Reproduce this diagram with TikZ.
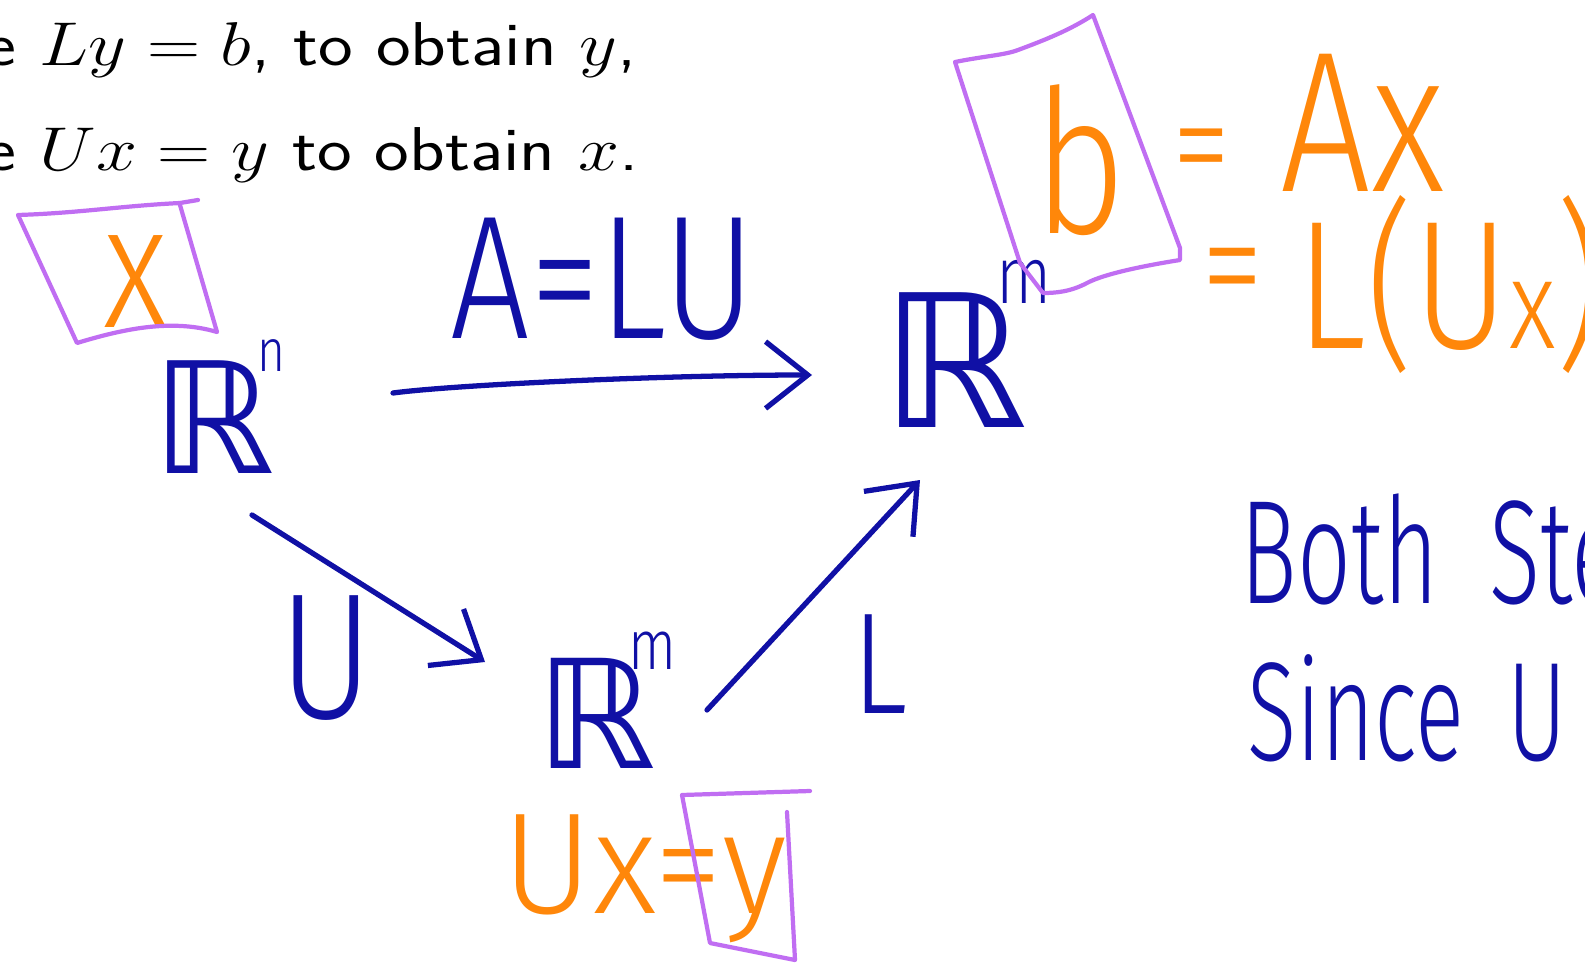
\RequirePackage{fix-cm}
\documentclass[tikz,border=0pt]{standalone}
\usepackage{fontspec}
\usepackage{amssymb}
\usetikzlibrary{arrows.meta,calc}
\newfontfamily\hand[UprightFont=* Light, FakeStretch=0.8]{Fira Sans}
\newfontfamily\dvs{DejaVu Sans}
\newcommand\HandAt[1]{\hand\fontsize{#1}{#1}\selectfont}
\newcommand\BBAt[1]{\dvs\fontsize{#1}{#1}\selectfont}
\definecolor{inkblue}{RGB}{16,16,165}
\definecolor{inkorange}{RGB}{255,135,10}
\definecolor{inkpurple}{RGB}{192,110,242}
\tikzset{
  ink/.style={line width=1.5pt, line cap=round, line join=round},
  bluearrow/.style={ink, draw=inkblue, -{Straight Barb[length=12pt,width=19pt,line width=1.5pt]}},
  hbox/.style={draw=inkpurple, line width=1.2pt, line cap=round, line join=round},
  bluetext/.style={text=inkblue, inner sep=0pt},
  orangetext/.style={text=inkorange, inner sep=0pt},
  slide/.style={text=black, inner sep=0pt, xscale=1.19, font=\sffamily\fontsize{17.6}{20}\selectfont},
}
\begin{document}
\begin{tikzpicture}[x=0.01cm,y=-0.01cm]
\useasboundingbox (0,0) rectangle (1585,976);
\clip (0,0) rectangle (1585,976);

% slide text
\node[slide, anchor=base west] (t1) at (-15,66) {e $Ly=b$, to obtain $y$,};
\node[slide, anchor=base west] (t2) at (-15,170) {e $Ux=y$ to obtain $x$.};

% spaces
\node[bluetext, anchor=base west, font=\BBAt{44}] (Rn) at (152,473) {ℝ\kern-5pt\raisebox{29pt}{\HandAt{17}n}};
\node[bluetext, anchor=base west, font=\BBAt{52.6}] (RmT) at (881,427) {ℝ\kern-9pt\raisebox{35pt}{\HandAt{23}m}};
\node[bluetext, anchor=base west, font=\BBAt{43}] (RmB) at (536,768) {ℝ\kern-8pt\raisebox{28pt}{\HandAt{20}m}};

% arrows
\draw[bluearrow] ($(Rn.base west)+(241,-80)$) .. controls +(60,-8) and +(-150,0) .. ($(RmT.base west)+(-69,-52)$);
\draw[bluearrow] ($(Rn.base west)+(100,42)$) -- ($(RmB.base west)+(-51,-106)$);
\draw[bluearrow] ($(RmB.base west)+(171,-58)$) -- ($(RmT.base west)+(39,53)$);

% arrow labels
\node[bluetext, anchor=base, font=\HandAt{50}] (AeqLU) at (603,338) {A=LU};
\node[bluetext, anchor=base west, font=\HandAt{51}] (lU) at (279,718) {U};
\node[bluetext, anchor=base west, font=\HandAt{41}] (lL) at (852,713) {L};

% orange notes
\node[orangetext, font=\HandAt{50}] (xx) at (136,282) {x};
\node[orangetext, font=\HandAt{57}] (bb) at (1080,160) {b};
\node[orangetext, font=\HandAt{42}] (eq1) at (1202,162) {=};
\node[orangetext, anchor=base west, font=\HandAt{57}] (Ax) at (1280,192) {Ax};
\node[orangetext, font=\HandAt{45}] (eq2) at (1233,283) {=};
\node[orangetext, anchor=base west, font=\HandAt{52}] (LUx) at (1296,348) {L(U{\HandAt{36}x})};
\node[orangetext, anchor=base west, xscale=1.2, font=\HandAt{41}] (Uxy) at (502,913) {Ux=y};

% blue notes
\node[bluetext, anchor=base west, xscale=0.8, font=\HandAt{42}] (both) at (1240,603) {Both\hspace{18pt}Ste};
\node[bluetext, anchor=base west, xscale=0.81, font=\HandAt{40}] (since) at (1247,760) {Since\hspace{15pt}U};

% purple boxes
\draw[hbox] (198,200) -- (180,203) .. controls (120,206) and (80,213) .. (18,215)
  -- (77,343) .. controls (120,330) and (170,318) .. (217,332) -- (180,205);
\draw[hbox] (955,62) .. controls (985,56) and (1005,55) .. (1018,50)
  .. controls (1045,40) and (1070,30) .. (1093,15) -- (1180,248) -- (1180,260)
  .. controls (1130,268) and (1100,276) .. (1087,283)
  .. controls (1070,292) and (1055,293) .. (1043,293) -- (1020,263) -- cycle;
\draw[hbox] (787,812) -- (795,960) -- (710,943) -- (682,795) -- (810,791);
\end{tikzpicture}
\end{document}
